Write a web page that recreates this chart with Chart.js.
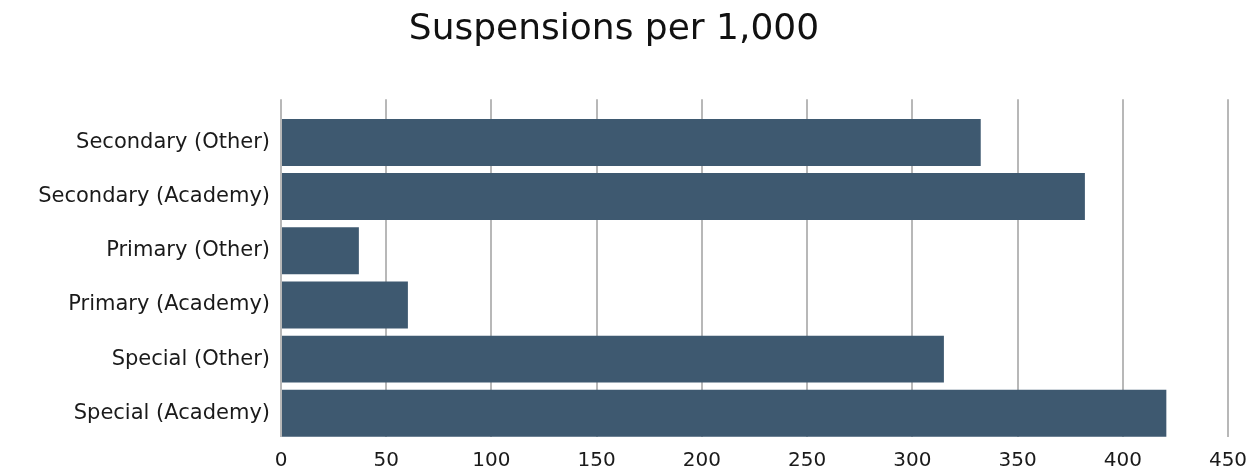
<!DOCTYPE html>
<html>
<head>
<meta charset="utf-8">
<script src="https://cdn.jsdelivr.net/npm/chart.js@4"></script>
<style>
  html, body { margin: 0; padding: 0; background: #fff; }
  #wrap { width: 1251px; height: 470px; }
</style>
</head>
<body>
<div id="wrap"><canvas id="chart"></canvas></div>
<script>
var categories = ['Secondary (Other)', 'Secondary (Academy)', 'Primary (Other)',
                  'Primary (Academy)', 'Special (Other)', 'Special (Academy)'];
var suspensions = [332.5, 382, 37, 60.3, 315, 420.7];
var xTicks = [0, 50, 100, 150, 200, 250, 300, 350, 400, 450];

var fontFamily = '"DejaVu Sans", sans-serif';

const ctx = document.getElementById('chart').getContext('2d');
const myChart = new Chart(ctx, {
    type: 'bar',
    data: {
        datasets: [{
            label: 'Suspensions per 1,000',
            // linear index axis so the bars can sit off-centre like the original
            data: suspensions.map(function (v, i) { return {x: v, y: i}; }),
            backgroundColor: '#3e5970',
            categoryPercentage: 1,
            barPercentage: 0.867
        }]
    },
    options: {
        indexAxis: 'y',
        responsive: true,
        maintainAspectRatio: false,
        animation: false,
        layout: { padding: { left: 0, right: 23, top: 0, bottom: 0 } },
        plugins: {
            legend: { display: false },
            tooltip: { enabled: false },
            title: {
                display: true,
                text: 'Suspensions per 1,000',
                color: '#111',
                font: { family: fontFamily, size: 36, weight: 'normal', lineHeight: 1.2 },
                padding: { top: 8, bottom: 48 }
            }
        },
        scales: {
            x: {
                type: 'linear',
                position: 'bottom',
                min: xTicks[0],
                max: xTicks[xTicks.length - 1],
                afterBuildTicks: function (scale) {
                    scale.ticks = xTicks.map(function (v) { return {value: v}; });
                },
                afterFit: function (scale) {
                    scale.height = 33;
                    scale.paddingLeft = 0;
                    scale.paddingRight = 0;
                },
                grid: { color: '#b8b8b8', lineWidth: 2, drawTicks: false },
                border: { display: false },
                ticks: {
                    color: '#1a1a1a',
                    padding: 12,
                    font: { family: fontFamily, size: 20 }
                }
            },
            y: {
                type: 'linear',
                offset: false,
                bounds: 'data',
                reverse: true,
                min: -0.797,
                max: categories.length - 1 + 0.437,
                afterBuildTicks: function (scale) {
                    scale.ticks = categories.map(function (c, i) { return {value: i}; });
                },
                afterFit: function (scale) {
                    scale.width = 281;
                    scale.paddingTop = 0;
                    scale.paddingBottom = 0;
                },
                grid: { display: false },
                border: { display: false },
                ticks: {
                    autoSkip: false,
                    color: '#1a1a1a',
                    padding: 3,
                    font: { family: fontFamily, size: 21 },
                    callback: function (v) { return categories[v]; }
                }
            }
        }
    }
});
</script>
</body>
</html>
